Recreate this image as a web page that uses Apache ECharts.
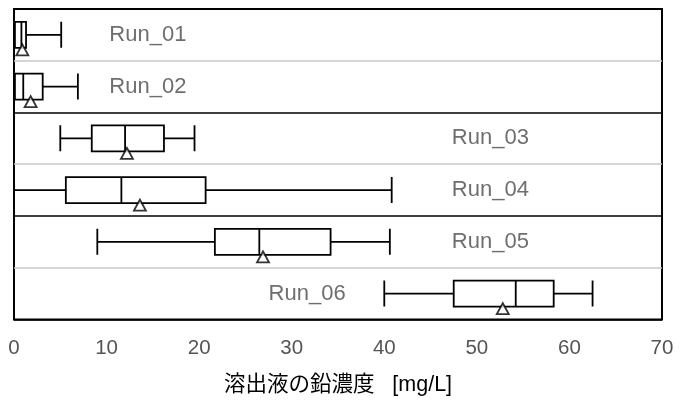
<!DOCTYPE html>
<html>
<head>
<meta charset="utf-8">
<script src="https://cdn.jsdelivr.net/npm/echarts@6/dist/echarts.min.js"></script>
<style>
html,body{margin:0;padding:0;background:#fff;}
#c{width:686px;height:401px;}
</style>
</head>
<body>
<div id="c"></div>
<script>
var categories = ['Run_01', 'Run_02', 'Run_03', 'Run_04', 'Run_05', 'Run_06'];
var minValues = [0, 0, 5.0, 0, 9.0, 40.0];
var q1Values = [0.1, 0.1, 8.4, 5.6, 21.7, 47.5];
var medianValues = [0.8, 1.0, 12.0, 11.6, 26.5, 54.2];
var q3Values = [1.3, 3.1, 16.2, 20.7, 34.2, 58.3];
var maxValues = [5.1, 6.9, 19.5, 40.8, 40.6, 62.5];
var meanValues = [0.9, 1.8, 12.2, 13.6, 26.9, 52.8];
var labelX = [10.3, 10.3, 47.3, 47.3, 47.3, 27.5];
var xTicks = [0, 10, 20, 30, 40, 50, 60, 70];

var boxData = categories.map(function (c, i) {
  return [minValues[i], q1Values[i], medianValues[i], q3Values[i], maxValues[i]];
});
var meanData = categories.map(function (c, i) { return [meanValues[i], c]; });
var labelData = categories.map(function (c, i) { return [labelX[i], c]; });

var chart = echarts.init(document.getElementById('c'), null, {renderer: 'canvas'});
chart.setOption({
  animation: false,
  backgroundColor: '#fff',
  grid: {
    left: 14, right: 24, top: 9, bottom: 81,
    show: true, borderColor: '#000', borderWidth: 2, backgroundColor: 'transparent'
  },
  xAxis: {
    type: 'value',
    min: xTicks[0], max: xTicks[xTicks.length - 1], interval: 10,
    axisLine: {show: false},
    axisTick: {show: false},
    splitLine: {show: false},
    axisLabel: {fontSize: 20.5, color: '#555', margin: 18, fontFamily: 'Liberation Sans'},
    name: '溶出液の鉛濃度   [mg/L]',
    nameLocation: 'middle',
    nameGap: 55,
    nameTextStyle: {fontSize: 21.5, color: '#000', fontFamily: "'Liberation Sans', 'Noto Sans CJK JP'"}
  },
  yAxis: {
    type: 'category',
    data: categories,
    inverse: true,
    axisLine: {show: false},
    axisTick: {show: false},
    axisLabel: {show: false},
    splitLine: {
      show: true,
      lineStyle: {
        color: ['#000', '#c8c8c8', '#000', '#c8c8c8', '#000', '#c8c8c8', '#000'],
        width: 1.5
      }
    }
  },
  series: [
    {
      type: 'boxplot',
      data: boxData,
      boxWidth: [26, 26],
      itemStyle: {color: '#fff', borderColor: '#000', borderWidth: 1.8},
      z: 3
    },
    {
      type: 'scatter',
      data: meanData,
      symbol: 'triangle',
      symbolSize: [12, 11],
      symbolOffset: [0, 15],
      itemStyle: {color: '#fff', borderColor: '#000', borderWidth: 1.8},
      z: 4
    },
    {
      type: 'scatter',
      data: labelData,
      symbolSize: 0,
      silent: true,
      label: {
        show: true,
        position: 'right',
        distance: 0,
        fontSize: 22,
        color: '#4a4a4a',
        fontFamily: 'Liberation Sans',
        formatter: function (p) { return p.value[1]; }
      },
      z: 5
    }
  ]
});
</script>
</body>
</html>
